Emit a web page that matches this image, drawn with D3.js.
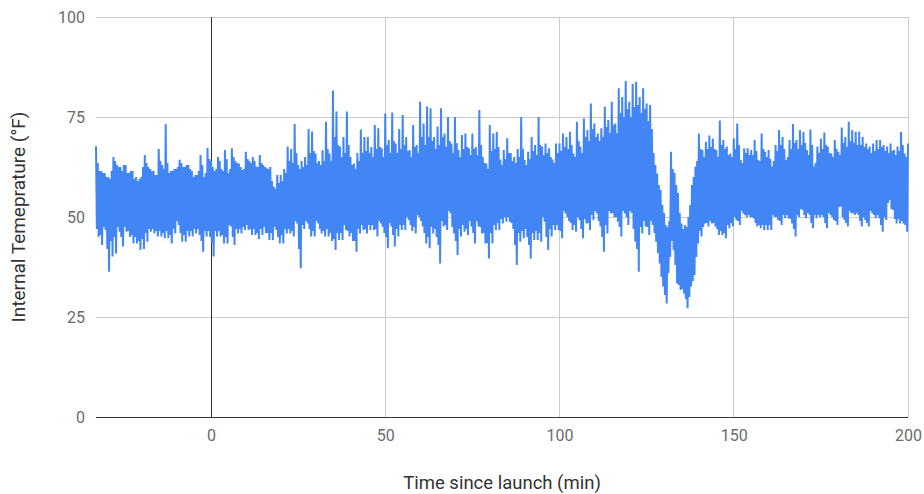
<!DOCTYPE html>
<html>
<head>
<meta charset="utf-8">
<script src="https://cdn.jsdelivr.net/npm/d3@7"></script>
<style>
  html, body { margin: 0; padding: 0; background: #fff; }
  svg { display: block; font-family: Roboto, "Noto Sans", sans-serif; }
</style>
</head>
<body>
<svg id="chart" width="924" height="494"></svg>
<script>
// Flight log: internal temperature (°F) against minutes since launch.
// Four readings per minute, starting at minute -33:
//   :00 peakTemps, :15 lowTempsEarly, :30 highTempsLate, :45 troughTemps
const startMinute = -33;

const peakTemps = [
  67.7, 61.5, 61, 60, 59.5, 65, 63, 62.5, 63, 61,
  61.5, 59.5, 59, 60, 65.5, 62.5, 61.5, 60.5, 67, 63,
  73.2, 61, 61.5, 62, 64.3, 62.5, 63, 62, 60, 60.5,
  65.5, 60, 67.3, 64, 61.5, 65, 62, 66.75, 61, 67.2,
  64, 63.4, 61.75, 66.3, 64, 65, 62.6, 65.5, 63, 62.2,
  62.5, 57.6, 60.5, 60.5, 62, 67.6, 67, 73.25, 63, 64,
  65, 72, 71.4, 65.9, 64, 66.7, 73.8, 65.9, 81.6, 76.4,
  67.6, 70, 76.4, 65, 63.4, 66, 71.9, 70, 70, 67.5,
  73, 72.2, 67.2, 75.9, 69.25, 76.1, 68.4, 72, 75.5, 70,
  66.75, 73, 68, 78.8, 73.4, 77.6, 77.2, 70, 72.6, 77.2,
  70.9, 75, 68.4, 75, 66.75, 70.5, 70.9, 67.2, 70.9, 67.5,
  76.75, 65, 63.4, 73, 70.9, 71.3, 64.4, 66.75, 69.7, 66,
  65, 67, 75, 64.25, 66.3, 70, 68, 75, 67.6, 68.4,
  67.2, 64.4, 68.4, 68.4, 70.9, 70, 71.3, 65.9, 73.8, 67.6,
  74.6, 71.75, 78.4, 73.4, 70.9, 72.2, 77.6, 74.25, 78.8, 73.4,
  82.2, 80, 84, 78.8, 83.25, 83.8, 80, 82.2, 78.4, 78,
  66, 60.9, 56.75, 51, 47.5, 66.3, 61, 56, 48.4, 48,
  50, 58, 62.6, 70.9, 66.75, 68.8, 70.4, 69.6, 66.75, 74.1,
  69.25, 67.6, 65.9, 69.7, 73.4, 64.25, 67.2, 67.2, 66.75, 69.25,
  64.25, 70.9, 66.3, 66.75, 62.6, 68, 71.75, 70, 64.25, 69.25,
  73.25, 69.25, 71.75, 71.3, 66.75, 71.9, 62.6, 67.6, 69.6, 71.1,
  67.6, 65.9, 69.25, 66.3, 72.4, 70, 73.8, 71.75, 71.3, 71.3,
  70, 68.4, 67.6, 68.4, 69.25, 69.25, 68, 67.6, 68.4, 66.75,
  67.6, 71.25, 65.9, 68.4
];

const lowTempsEarly = [
  47, 45.5, 47.5, 42, 44, 45, 47.5, 45, 47.5, 46.5,
  45.5, 45, 44, 44.5, 46, 47, 47, 46.5, 46.5, 46,
  46.5, 45.5, 47, 49, 46, 45.5, 46.5, 46.5, 47, 47,
  44, 46.5, 46.5, 43.5, 46.5, 46.5, 45.5, 45, 48, 45,
  47, 47, 47.5, 48, 47, 47, 46, 47, 47.5, 46,
  46, 47.5, 45, 45.5, 47, 47, 46.5, 49, 42, 48,
  49, 47, 46.5, 49, 47, 46.5, 47, 46, 44.5, 46,
  46, 48, 46.5, 46, 44, 47, 48, 47, 48, 48,
  47, 49, 47.5, 45, 48.5, 45.5, 47, 48, 48, 50,
  48, 47.5, 50.5, 49, 46, 45, 47.5, 47, 43, 49,
  48, 51.5, 47.5, 44, 47, 48, 47, 49, 46, 49,
  47.5, 46, 43.5, 46, 48, 48.5, 49.5, 50, 50, 48.5,
  43, 46, 46.5, 47, 43, 46, 46.5, 46, 50, 45,
  47, 48, 48, 46.5, 51.5, 50, 48.5, 48, 50, 47,
  49.5, 48.5, 50.5, 51.5, 49, 45, 48, 51.5, 51, 50,
  47.5, 51.5, 50, 51.5, 47, 42, 47.5, 49, 47.5, 49,
  46, 41, 35, 30.5, 36, 44, 38, 33, 32, 29.5,
  30, 34, 40, 46.5, 47.5, 48.5, 49, 48.5, 47, 46.5,
  46, 48, 48.5, 50, 49, 51.5, 50.5, 50.5, 50, 48.5,
  48, 48, 48, 48, 50.5, 50, 49, 50.5, 50.5, 49.5,
  47, 50.5, 52, 50.5, 51, 48.5, 50.5, 50.5, 50.5, 48.5,
  51, 50, 49, 52.5, 50, 48.5, 51.5, 51, 51, 49,
  50, 48.5, 51.5, 50.5, 50.5, 48, 50, 53.5, 52, 49.5,
  49.5, 49, 48
];

const highTempsLate = [
  63.5, 61.5, 61, 60, 61.5, 64, 62.5, 61.5, 63, 61,
  61.5, 60, 59.5, 62.5, 63.5, 62, 61.5, 60.5, 64, 62,
  63.5, 61.5, 62, 62.5, 63.5, 62.5, 63, 61.5, 60.5, 61.5,
  63, 61, 64.5, 62.5, 62, 64, 61.5, 64.5, 62, 65,
  63.5, 62.5, 62, 64.5, 63.5, 64, 62.5, 63.5, 62.5, 62,
  59, 57, 58.5, 59, 61, 64, 63.5, 66, 62, 62.5,
  63, 66, 66.5, 63.5, 63, 64, 67, 64, 70, 68,
  65, 66, 68, 63, 62, 64, 66, 66.5, 66, 65,
  67, 67.5, 65, 68, 66, 69, 66, 67, 68, 66.5,
  65, 67.5, 66, 70, 68, 70, 69, 67, 68, 70,
  67.5, 69, 66, 68.5, 65, 67, 67.5, 65.5, 67, 65.5,
  68, 63.5, 62, 66.5, 67, 67.5, 63, 64.5, 66, 64,
  63.5, 65, 67, 63, 64.5, 66.5, 65.5, 68, 65.5, 66,
  65, 63.5, 66, 66.5, 67.5, 67, 68, 65, 69, 66,
  70, 69, 72, 70, 69, 70, 72.5, 71, 73, 71,
  76, 75, 77, 75, 77.5, 78, 76, 77, 74, 72,
  63, 58, 53, 48, 49, 62, 58, 51, 47, 47.5,
  53, 60, 64, 67, 65, 67, 67.5, 67, 65, 68,
  67, 65.5, 65, 67, 68, 63.5, 66, 65.5, 65.5, 66.5,
  64, 67, 65, 64.5, 64, 66.5, 68, 67, 65, 67,
  68.5, 67, 68, 68.5, 65.5, 68, 63.5, 66, 67, 68,
  66, 65, 67, 65.5, 68.5, 67.5, 69, 68.5, 68, 68,
  67.5, 67, 66, 66.5, 67, 67.5, 66.5, 66, 66.5, 65.5,
  66.5, 68, 65
];

const troughTemps = [
  45, 43, 46.75, 36.3, 40.1, 40.9, 46.3, 42.6, 46.3, 45,
  43.4, 43.4, 41.75, 42, 43.8, 46.3, 45.9, 45.1, 45.1, 44.7,
  44.7, 43.4, 45.9, 48, 43.8, 43.8, 45.1, 45.1, 45.9, 45.5,
  41.3, 45.1, 45, 40.1, 45.1, 45.1, 43.4, 43.4, 47.6, 43,
  45.9, 45.9, 46.75, 46.75, 45.5, 45.5, 44.5, 45.5, 46, 44.25,
  44.25, 46.75, 43.4, 43.4, 45.9, 45.9, 45.1, 48.4, 37.2, 47,
  48.4, 45.1, 45.1, 48.4, 45.9, 45.1, 45.1, 44, 41.75, 44.25,
  44.25, 46.75, 45.1, 44, 41.3, 45.9, 46.75, 45.9, 46.75, 46.75,
  45.1, 48.4, 46, 42.2, 47.6, 42.6, 45.1, 46.75, 46.75, 49.25,
  46.5, 45.9, 50, 47.6, 43.4, 42.2, 45.9, 45, 38.4, 47.6,
  46.75, 50.9, 45.9, 40.5, 45.1, 46.3, 45.5, 47.6, 43.4, 47.6,
  45.9, 43.4, 39.6, 43.4, 46.75, 46.75, 48.4, 48.8, 48.8, 47,
  38, 43.8, 44.7, 45, 39.6, 44.25, 44.25, 43.8, 48.8, 41.75,
  45.1, 46.75, 46.75, 44.7, 50.9, 49, 46.75, 46.3, 49.25, 44.7,
  48.4, 46.75, 49.25, 50.9, 47.6, 41.3, 45.9, 50.9, 50, 48.8,
  45.1, 50.9, 48, 51, 43.8, 36.3, 45.9, 47.6, 45.5, 48,
  43.8, 38.4, 32.6, 28.4, 40, 41.75, 33.4, 31.75, 30.9, 27.2,
  32.6, 35.5, 43.4, 45.1, 48.4, 47.6, 48.4, 47.6, 45.5, 45.5,
  44.7, 47.2, 47.6, 49.25, 48, 50.9, 50, 50, 49.6, 47.6,
  47.2, 46.75, 46.75, 46.75, 50, 49.25, 48, 49.7, 49.7, 48.4,
  45.1, 50, 51.75, 49.7, 50.5, 47.2, 49.7, 50, 50, 47.2,
  50.5, 49.25, 48, 52.6, 49.25, 47.6, 50.9, 50.5, 50.5, 47.6,
  49.25, 47.6, 50.9, 49.7, 49.7, 46.3, 49.25, 54.25, 51.75, 48.4,
  48.4, 48.4, 46.3
];

const xTicks = [0, 50, 100, 150, 200];
const yTicks = [0, 25, 50, 75, 100];
const xTitle = "Time since launch (min)";
const yTitle = "Internal Temeprature (°F)";

// Merge the four quarter-minute streams into one time series.
const readings = [];
peakTemps.forEach((v, i) => {
  const t = startMinute + i;
  readings.push({ t, v });
  if (i < troughTemps.length) {
    readings.push({ t: t + 0.25, v: lowTempsEarly[i] });
    readings.push({ t: t + 0.5, v: highTempsLate[i] });
    readings.push({ t: t + 0.75, v: troughTemps[i] });
  }
});

const svg = d3.select("#chart");
const margin = { left: 96, right: 16, top: 17, bottom: 77 };
const W = 924, H = 494;

const x = d3.scaleLinear()
  .domain([startMinute, 200])
  .range([margin.left, W - margin.right]);
const y = d3.scaleLinear()
  .domain([0, 100])
  .range([H - margin.bottom, margin.top]);

// Light gridlines
const grid = svg.append("g");
grid.selectAll("line.h")
  .data(yTicks.filter(d => d !== 0))
  .join("line")
  .attr("x1", x.range()[0]).attr("x2", x.range()[1])
  .attr("y1", d => y(d)).attr("y2", d => y(d))
  .attr("stroke", "#cccccc").attr("stroke-width", 1)
  .attr("shape-rendering", "crispEdges");
grid.selectAll("line.v")
  .data(xTicks.filter(d => d !== 0))
  .join("line")
  .attr("x1", d => x(d)).attr("x2", d => x(d))
  .attr("y1", y(0)).attr("y2", y(100))
  .attr("stroke", "#cccccc").attr("stroke-width", 1)
  .attr("shape-rendering", "crispEdges");

// Launch marker (x = 0)
svg.append("line")
  .attr("x1", x(0)).attr("x2", x(0))
  .attr("y1", y(0)).attr("y2", y(100))
  .attr("stroke", "#333333").attr("stroke-width", 1)
  .attr("shape-rendering", "crispEdges");

// Temperature trace
const line = d3.line().x(d => x(d.t)).y(d => y(d.v));
svg.append("path")
  .datum(readings)
  .attr("d", line)
  .attr("fill", "none")
  .attr("stroke", "#4285f4")
  .attr("stroke-width", 2);

// Baseline (y = 0)
svg.append("line")
  .attr("x1", x.range()[0]).attr("x2", x.range()[1])
  .attr("y1", y(0)).attr("y2", y(0))
  .attr("stroke", "#333333").attr("stroke-width", 1)
  .attr("shape-rendering", "crispEdges");

// Axes (labels only)
const yAxis = svg.append("g")
  .attr("transform", `translate(${x.range()[0]},0)`)
  .call(d3.axisLeft(y).tickValues(yTicks).tickSize(0).tickPadding(11));
const xAxis = svg.append("g")
  .attr("transform", `translate(0,${y(0)})`)
  .call(d3.axisBottom(x).tickValues(xTicks).tickSize(0).tickPadding(13));
[yAxis, xAxis].forEach(g => {
  g.select(".domain").remove();
  g.selectAll("text")
    .attr("fill", "#6b6b6b")
    .style("font-size", "16px")
    .style("font-family", "Roboto, sans-serif");
});

// Axis titles
svg.append("text")
  .attr("x", (x.range()[0] + x.range()[1]) / 2)
  .attr("y", 489)
  .attr("text-anchor", "middle")
  .attr("fill", "#333333")
  .style("font-size", "18.5px")
  .text(xTitle);

svg.append("text")
  .attr("transform", `translate(25,${(y.range()[0] + y.range()[1]) / 2}) rotate(-90)`)
  .attr("text-anchor", "middle")
  .attr("fill", "#333333")
  .style("font-size", "19px")
  .text(yTitle);
</script>
</body>
</html>
